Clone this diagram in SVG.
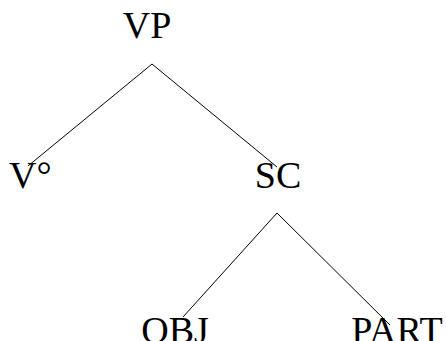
<svg xmlns="http://www.w3.org/2000/svg" width="446" height="341" viewBox="0 0 446 341">
  <style>
    .lbl { font-family: "Liberation Serif", "Times New Roman", serif; font-size: 38px; fill: #000; }
    .edge { stroke: #000; stroke-width: 1; fill: none; }
  </style>
  <rect width="446" height="341" fill="#fff"/>
  <g id="connectors">
    <line class="edge" x1="152" y1="64" x2="28" y2="166"/>
    <line class="edge" x1="152" y1="64" x2="277" y2="167"/>
    <line class="edge" x1="277" y1="213" x2="183" y2="317"/>
    <line class="edge" x1="277" y1="213" x2="390" y2="325"/>
  </g>
  <g id="VP"><text class="lbl" x="147" y="38" text-anchor="middle">VP</text></g>
  <g id="V0"><text class="lbl" x="9" y="188">V°</text></g>
  <g id="SC"><text class="lbl" x="278" y="188" text-anchor="middle">SC</text></g>
  <g id="OBJ"><text class="lbl" x="175" y="343" text-anchor="middle">OBJ</text></g>
  <g id="PART"><text class="lbl" x="397" y="343" text-anchor="middle">PART</text></g>
</svg>
